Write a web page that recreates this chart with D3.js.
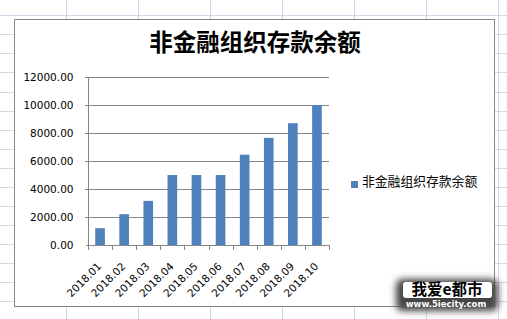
<!DOCTYPE html>
<html><head><meta charset="utf-8">
<script src="https://cdn.jsdelivr.net/npm/d3@7"></script>
<style>
html,body{margin:0;padding:0;background:#fff;}
svg{display:block;}
</style></head>
<body>
<svg id="c" width="507" height="319"></svg>
<script>
const title = "非金融组织存款余额";
const seriesName = "非金融组织存款余额";
const categories = ["2018.01","2018.02","2018.03","2018.04","2018.05","2018.06","2018.07","2018.08","2018.09","2018.10"];
const values = [1200, 2200, 3150, 5000, 5000, 5000, 6450, 7650, 8700, 10000];
const yTicks = [0, 2000, 4000, 6000, 8000, 10000, 12000];

const svg = d3.select("#c");
const W = 507, H = 319;

// spreadsheet background grid
const bg = svg.append("g").attr("shape-rendering","crispEdges");
d3.range(0, 8).forEach(i => {
  const x = Math.round(65.5 + i * 72.05) + 0.5;
  bg.append("line").attr("x1", x).attr("x2", x).attr("y1", 0).attr("y2", H).attr("stroke", "#d0d7e5");
});
d3.range(0, 17).forEach(i => {
  const y = Math.round(15.3 + i * 19.05) + 0.5;
  bg.append("line").attr("x1", 0).attr("x2", W).attr("y1", y).attr("y2", y).attr("stroke", "#d0d7e5");
});

// chart area
svg.append("rect").attr("x", 14.5).attr("y", 19.5).attr("width", 480).attr("height", 287)
  .attr("fill", "#fff").attr("stroke", "#868686").attr("stroke-width", 1);

svg.append("text").attr("x", 255).attr("y", 51).attr("text-anchor", "middle")
  .attr("font-family", "'Noto Sans CJK SC'").attr("font-weight", "bold").attr("font-size", 23.5)
  .attr("fill", "#000").text(title);

const x = d3.scaleBand().domain(categories).range([88, 329]).paddingInner(0.6).paddingOuter(0.3);
const y = d3.scaleLinear().domain([0, 12000]).range([245, 77]);

const g = svg.append("g");

// gridlines
g.append("g").attr("shape-rendering","crispEdges").selectAll("line").data(yTicks.filter(d => d > 0)).join("line")
  .attr("x1", 85).attr("x2", 329).attr("y1", d => Math.round(y(d)) + 0.5).attr("y2", d => Math.round(y(d)) + 0.5)
  .attr("stroke", "#868686");

// y axis
const yAxis = g.append("g").attr("transform", "translate(88.5,0)")
  .call(d3.axisLeft(y).tickValues(yTicks).tickFormat(d3.format(".2f")).tickSize(3).tickPadding(12));
yAxis.select(".domain").attr("stroke", "#868686").attr("d", `M-3,${y(0)}H0V${y(12000)}H-3`);
yAxis.selectAll(".tick line").attr("stroke", "#868686");
yAxis.selectAll(".tick text").attr("font-family", "'DejaVu Sans'").attr("font-size", 10.5).attr("fill", "#000");
yAxis.attr("shape-rendering","crispEdges");

// bars
g.append("g").selectAll("rect").data(values).join("rect")
  .attr("x", (d, i) => x(categories[i])).attr("width", x.bandwidth())
  .attr("y", d => y(d)).attr("height", d => y(0) - y(d))
  .attr("fill", "#4f81bd");

// x axis
const xa = g.append("g").attr("shape-rendering","crispEdges");
xa.append("line").attr("x1", 88).attr("x2", 329).attr("y1", y(0) + 0.5).attr("y2", y(0) + 0.5).attr("stroke", "#868686");
const bounds = categories.map(c => x(c) - x.step() * x.paddingOuter()).concat([x.range()[1]]);
xa.selectAll("line.t").data(bounds).join("line").attr("class", "t")
  .attr("x1", d => Math.round(d) + 0.5).attr("x2", d => Math.round(d) + 0.5)
  .attr("y1", y(0)).attr("y2", y(0) + 5).attr("stroke", "#868686");
g.append("g").selectAll("text").data(categories).join("text")
  .attr("transform", d => `translate(${x(d) + x.bandwidth() / 2 + 2},267) rotate(-45)`)
  .attr("text-anchor", "end").attr("font-family", "'DejaVu Sans'").attr("font-size", 10.5)
  .attr("fill", "#000").text(d => d);

// legend
svg.append("rect").attr("x", 351).attr("y", 181).attr("width", 7).attr("height", 7).attr("fill", "#4f81bd");
svg.append("text").attr("x", 362).attr("y", 186).attr("font-family", "'Noto Sans CJK SC'")
  .attr("font-size", 12.8).attr("fill", "#000").text(seriesName);

// watermark
const defs = svg.append("defs");
defs.append("filter").attr("id", "blur").attr("x", "-30%").attr("y", "-50%").attr("width", "160%").attr("height", "200%")
  .append("feGaussianBlur").attr("stdDeviation", 3.5);
const wm = svg.append("g");
wm.append("rect").attr("x", 396).attr("y", 279).attr("width", 102).attr("height", 32).attr("rx", 6)
  .attr("fill", "#444").attr("filter", "url(#blur)");
wm.append("rect").attr("x", 403).attr("y", 282).attr("width", 89).attr("height", 16).attr("rx", 3).attr("fill", "#fff");
wm.append("text").attr("x", 447).attr("y", 295).attr("text-anchor", "middle")
  .attr("font-family", "'Noto Sans CJK SC'").attr("font-weight", "bold").attr("font-size", 15.5)
  .attr("fill", "#000").text("我爱e都市");
wm.append("text").attr("x", 446).attr("y", 307).attr("text-anchor", "middle")
  .attr("font-family", "'DejaVu Sans'").attr("font-weight", "bold").attr("font-size", 8.5)
  .attr("fill", "#fff").text("www.5iecity.com");
</script>
</body></html>
